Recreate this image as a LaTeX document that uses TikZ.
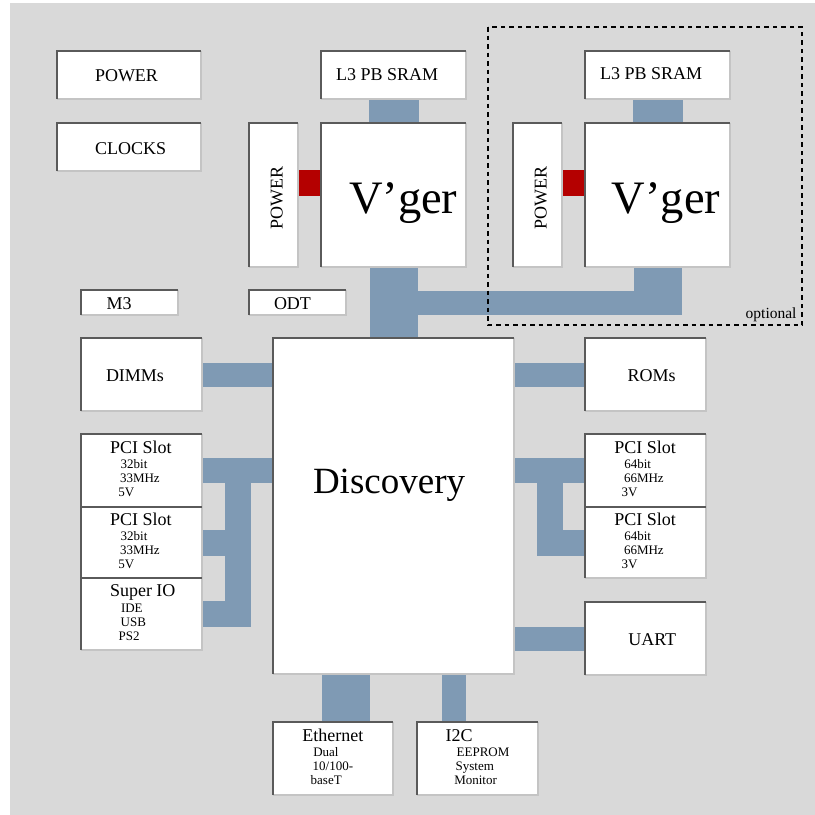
\documentclass[tikz,border=0pt]{standalone}
\usepackage{fontspec}
\setmainfont{Liberation Serif}
\usetikzlibrary{calc}
\definecolor{bgcol}{RGB}{217,217,217}
\definecolor{buscol}{RGB}{127,154,180}
\definecolor{redcol}{RGB}{180,0,0}
\definecolor{edgeD}{RGB}{90,90,90}
\definecolor{edgeL}{RGB}{196,196,196}
\pgfdeclarelayer{back}
\pgfsetlayers{back,main}
\newcommand\mybox[5]{\node[boxst, minimum width={#4-#2}, minimum height={#5-#3}] (#1) at ({(#2+#4)/2},{(#3+#5)/2}) {};}
\newcommand\mytxt[5]{\node[#1] (#2) at (#3,#4) {#5};}
\begin{document}
\begin{tikzpicture}[x=1pt,y=-1pt,
  boxst/.style={rectangle, fill=white, draw=none, inner sep=0pt, outer sep=0pt},
  lbl/.style={anchor=base west, inner sep=0pt, outer sep=0pt, font=\fontsize{18}{20}\selectfont},
  sm/.style={anchor=base west, inner sep=0pt, outer sep=0pt, font=\fontsize{13}{15}\selectfont},
  big/.style={anchor=base west, inner sep=0pt, outer sep=0pt, font=\fontsize{46.5}{50}\selectfont},
  disco/.style={anchor=base west, inner sep=0pt, outer sep=0pt, font=\fontsize{37}{40}\selectfont},
  opt/.style={anchor=base west, inner sep=0pt, outer sep=0pt, font=\fontsize{15.5}{17}\selectfont},
  vert/.style={lbl, rotate=90},
  bus/.style={draw=buscol, line cap=butt},
  redbar/.style={draw=redcol, line cap=butt},
  edgelight/.style={draw=edgeL, line width=1.8pt},
  edgedark/.style={draw=edgeD, line width=1.2pt},
  optbox/.style={draw=black, line width=1.3pt, dash pattern=on 4.5pt off 4pt}
]
\useasboundingbox (0,0) rectangle (815,815);
% boxes
\mybox{pwr}{57}{51}{201}{99}
\mybox{clk}{57}{123}{201}{171}
\mybox{pwA}{249}{123}{298}{267}
\mybox{sramA}{321}{51}{466}{99}
\mybox{vgA}{321}{123}{466}{267}
\mybox{sramB}{585}{51}{730}{99}
\mybox{vgB}{585}{123}{730}{267}
\mybox{pwB}{513}{123}{562}{267}
\mybox{mthree}{81}{290}{178}{315}
\mybox{odt}{249}{290}{346}{315}
\mybox{dimm}{81}{338}{202}{411}
\mybox{disc}{273}{338}{514}{674}
\mybox{roms}{585}{338}{706}{411}
\mybox{lpA}{81}{434}{202}{507}
\mybox{lpB}{81}{507}{202}{578}
\mybox{sio}{81}{578}{202}{650}
\mybox{rpA}{585}{434}{706}{507}
\mybox{rpB}{585}{507}{706}{578}
\mybox{uart}{585}{602}{706}{675}
\mybox{eth}{273}{722}{393}{795}
\mybox{itwoc}{417}{722}{538}{795}
% borders
\foreach \n in {pwr,clk,pwA,sramA,vgA,sramB,vgB,pwB,mthree,odt,dimm,disc,roms,lpA,lpB,sio,rpA,rpB,uart,eth,itwoc}{
  \draw[edgelight] (\n.north east) -- (\n.south east) -- (\n.south west);
  \draw[edgedark] (\n.south west) -- (\n.north west) -- (\n.north east);
}
\coordinate (lbus) at (238,0);
\coordinate (rbus) at (550,0);
\coordinate (ethx) at (346,0);
\coordinate (itcx) at (454,0);
\coordinate (redy) at (0,183);
\coordinate (hby) at (0,303);
\coordinate (hbend) at (0,315);
\begin{pgfonlayer}{back}
\fill[bgcol] (10,3) rectangle (815,815);
\draw[bus, line width=50pt] (sramA.south) -- (vgA.north);
\draw[bus, line width=50pt] (sramB.south) -- (vgB.north);
\draw[redbar, line width=26pt] (pwA.east |- redy) -- (vgA.west |- redy);
\draw[redbar, line width=26pt] (pwB.east |- redy) -- (vgB.west |- redy);
\draw[bus, line width=48pt] (vgA.south) -- (vgA.south |- disc.north);
\draw[bus, line width=24pt] (vgA.south |- hby) -- (vgB.south |- hby);
\draw[bus, line width=48pt] (vgB.south) -- (vgB.south |- hbend);
\draw[bus, line width=24pt] (dimm.east) -- (dimm.east -| disc.west);
\draw[bus, line width=24pt] (roms.west) -- (roms.west -| disc.east);
\draw[bus, line width=24pt] (uart.west) -- (uart.west -| disc.east);
\draw[bus, line width=25pt] (lpA.east) -- (lpA.east -| disc.west);
\draw[bus, line width=26pt] (lbus |- lpA.east) -- (lbus |- sio.east);
\draw[bus, line width=26pt] (lpB.east) -- (lbus |- lpB.east);
\draw[bus, line width=26pt] (sio.east) -- ($(lbus |- sio.east)+(13,0)$);
\draw[bus, line width=25pt] (rpA.west) -- (rpA.west -| disc.east);
\draw[bus, line width=26pt] (rbus |- rpA.west) -- (rbus |- rpB.west);
\draw[bus, line width=26pt] (rpB.west) -- ($(rbus |- rpB.west)+(-13,0)$);
\draw[bus, line width=48pt] (disc.south -| ethx) -- (eth.north -| ethx);
\draw[bus, line width=24pt] (disc.south -| itcx) -- (itwoc.north -| itcx);
\end{pgfonlayer}
% optional frame
\draw[optbox] (488,27) rectangle (802,325);
% labels
\mytxt{lbl}{tpwr}{95}{81.7}{POWER}
\mytxt{lbl}{tclk}{95}{154}{CLOCKS}
\mytxt{lbl}{tsramA}{336}{80}{L3 PB SRAM}
\mytxt{lbl}{tsramB}{600}{79.5}{L3 PB SRAM}
\mytxt{big}{tvgA}{349}{213.3}{V’ger}
\mytxt{big}{tvgB}{611.7}{213.3}{V’ger}
\mytxt{vert}{tpwA}{282.7}{229.3}{POWER}
\mytxt{vert}{tpwB}{546.7}{229.3}{POWER}
\mytxt{lbl}{tmthree}{106.7}{309}{M3}
\mytxt{lbl}{todt}{274}{309}{ODT}
\mytxt{lbl}{tdimm}{106}{381.7}{DIMMs}
\mytxt{lbl}{troms}{627.7}{381.7}{ROMs}
\mytxt{lbl}{tuart}{628.3}{645.7}{UART}
\mytxt{disco}{tdisc}{313}{493}{Discovery}
% left PCI slots
\mytxt{lbl}{tlpA}{110}{453.3}{PCI Slot}
\mytxt{sm}{tlpAa}{120.7}{468.3}{32bit}
\mytxt{sm}{tlpAb}{120}{482.7}{33MHz}
\mytxt{sm}{tlpAc}{118.3}{496}{5V}
\mytxt{lbl}{tlpB}{110}{525.3}{PCI Slot}
\mytxt{sm}{tlpBa}{120.7}{540.3}{32bit}
\mytxt{sm}{tlpBb}{120}{554.7}{33MHz}
\mytxt{sm}{tlpBc}{118.3}{568}{5V}
\mytxt{lbl}{tsio}{110}{596.7}{Super IO}
\mytxt{sm}{tsioa}{121}{612.7}{IDE}
\mytxt{sm}{tsiob}{120.7}{626.7}{USB}
\mytxt{sm}{tsioc}{118.7}{640}{PS2}
% right PCI slots
\mytxt{lbl}{trpA}{614.3}{453.3}{PCI Slot}
\mytxt{sm}{trpAa}{624.3}{468.3}{64bit}
\mytxt{sm}{trpAb}{624}{482.7}{66MHz}
\mytxt{sm}{trpAc}{621.7}{496}{3V}
\mytxt{lbl}{trpB}{614.3}{525.3}{PCI Slot}
\mytxt{sm}{trpBa}{624.3}{540.3}{64bit}
\mytxt{sm}{trpBb}{624}{554.7}{66MHz}
\mytxt{sm}{trpBc}{621.7}{568}{3V}
% bottom
\mytxt{lbl}{teth}{302.3}{741.7}{Ethernet}
\mytxt{sm}{tetha}{313.3}{756.7}{Dual}
\mytxt{sm}{tethb}{312.7}{770.7}{10/100-}
\mytxt{sm}{tethc}{310.7}{784}{baseT}
\mytxt{lbl}{titc}{445.7}{741.7}{I2C}
\mytxt{sm}{titca}{456.7}{756.7}{EEPROM}
\mytxt{sm}{titcb}{455.7}{770.7}{System}
\mytxt{sm}{titcc}{454.3}{784}{Monitor}
\mytxt{opt}{topt}{745.7}{318}{optional}
\end{tikzpicture}
\end{document}
